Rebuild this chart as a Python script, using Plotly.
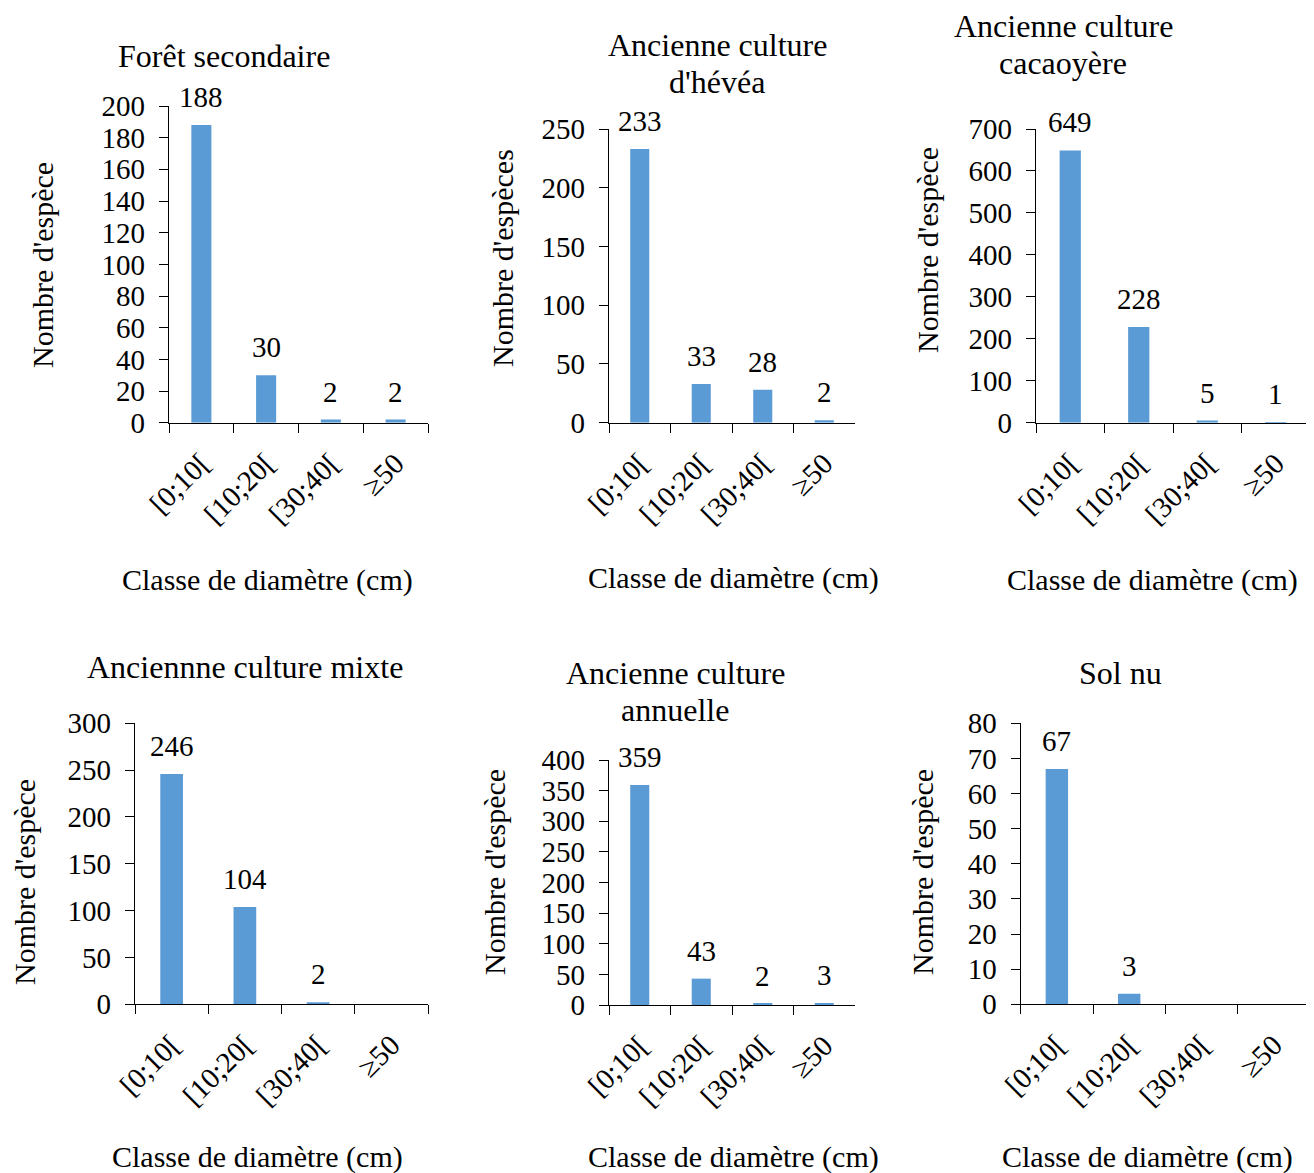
import plotly.graph_objects as go

# the page body has an 8px margin; the figure is laid out in page pixels minus that offset
OFF = 8
W, H = 1314 - OFF, 1173 - OFF
FONT = "Liberation Serif, Times New Roman, serif"
FS_TICK = 29
FS_AXT = 30
FS_TITLE = 32
BAR = "#5B9BD5"


def fx(px):
    return (px - OFF) / W


def fy(py):
    return 1 - (py - OFF) / H


categories = ["[0;10[", "[10;20[", "[30;40[", "≥50"]

titles = [["Forêt secondaire"], ["Ancienne culture", "d'hévéa"], ["Ancienne culture", "cacaoyère"],
          ["Anciennne culture mixte"], ["Ancienne culture", "annuelle"], ["Sol nu"]]
ytitles = ["Nombre d'espèce", "Nombre d'espèces", "Nombre d'espèce",
           "Nombre d'espèce", "Nombre d'espèce", "Nombre d'espèce"]
xtitle = "Classe de diamètre (cm)"

foret_secondaire = [188, 30, 2, 2]
culture_hevea = [233, 33, 28, 2]
culture_cacaoyere = [649, 228, 5, 1]
culture_mixte = [246, 104, 2, None]
culture_annuelle = [359, 43, 2, 3]
sol_nu = [67, 3, None, None]
series = [foret_secondaire, culture_hevea, culture_cacaoyere, culture_mixte, culture_annuelle, sol_nu]

ymax = [200, 250, 700, 300, 400, 80]
ydtick = [20, 50, 100, 50, 50, 10]

# plot areas in page pixels: x0, x1, ytop, ybottom
boxes = [(169, 428, 106, 422.7), (609, 855, 129, 422.7), (1036, 1310, 129, 422.7),
         (135, 428, 723.3, 1004.3), (609, 855, 760, 1005), (1020.7, 1310, 723.3, 1004.3)]
title_x = [224, 717, 1063, 245, 675, 1120]
title_y = [[56], [45, 82], [26, 63], [667], [673, 710], [673]]
xtitle_pos = [(267, 580), (733, 578), (1152, 580), (257, 1157), (733, 1157), (1147, 1157)]
ytitle_pos = [(42, 265), (502, 258), (927, 250), (24, 882), (494, 872), (922, 872)]

fig = go.Figure()
annotations = []
for i, vals in enumerate(series):
    n = "" if i == 0 else str(i + 1)
    fig.add_trace(go.Bar(
        x=categories, y=vals, xaxis="x" + n, yaxis="y" + n,
        marker=dict(color=BAR, line=dict(width=0)), width=0.31,
        showlegend=False, hoverinfo="x+y"))
    # value labels above the bars, positioned through the data axes
    for c, v in zip(categories, vals):
        if v is None:
            continue
        annotations.append(dict(text=str(v), x=c, y=v, xref="x" + n, yref="y" + n,
                                xanchor="center", yanchor="middle", yshift=28, showarrow=False,
                                font=dict(family=FONT, size=FS_TICK, color="black")))
    x0, x1, yt, yb = boxes[i]
    fig.layout["xaxis" + n] = dict(
        domain=[fx(x0), fx(x1)], anchor="y" + n, type="category", range=[-0.5, 3.5],
        showline=True, linecolor="black", linewidth=1.3, ticks="outside", ticklen=9,
        tickcolor="black", tickwidth=1.3, tickson="boundaries", tickangle=-45,
        tickfont=dict(family=FONT, size=FS_TICK, color="black"), showgrid=False, zeroline=False,
        ticklabelstandoff=11, automargin=False, fixedrange=True)
    fig.layout["yaxis" + n] = dict(
        domain=[fy(yb), fy(yt)], anchor="x" + n, range=[0, ymax[i]], dtick=ydtick[i],
        showline=True, linecolor="black", linewidth=1.3, ticks="outside", ticklen=9,
        tickcolor="black", tickwidth=1.3, tickfont=dict(family=FONT, size=FS_TICK, color="black"),
        showgrid=False, zeroline=False, ticklabelstandoff=8, automargin=False, fixedrange=True)
    for line, ly in zip(titles[i], title_y[i]):
        annotations.append(dict(text=line, x=fx(title_x[i]), y=fy(ly), xref="paper", yref="paper",
                                xanchor="center", yanchor="middle", showarrow=False,
                                font=dict(family=FONT, size=FS_TITLE, color="black")))
    ax, ay = xtitle_pos[i]
    annotations.append(dict(text=xtitle, x=fx(ax), y=fy(ay), xref="paper", yref="paper",
                            xanchor="center", yanchor="middle", showarrow=False,
                            font=dict(family=FONT, size=FS_AXT, color="black")))
    gx, gy = ytitle_pos[i]
    annotations.append(dict(text=ytitles[i], x=fx(gx), y=fy(gy), xref="paper", yref="paper",
                            xanchor="center", yanchor="middle", showarrow=False, textangle=-90,
                            font=dict(family=FONT, size=FS_AXT, color="black")))

fig.update_layout(width=W, height=H, margin=dict(l=0, r=0, t=0, b=0, pad=0, autoexpand=False),
                  paper_bgcolor="white", plot_bgcolor="white", annotations=annotations,
                  showlegend=False)
fig.write_html("out.html")
